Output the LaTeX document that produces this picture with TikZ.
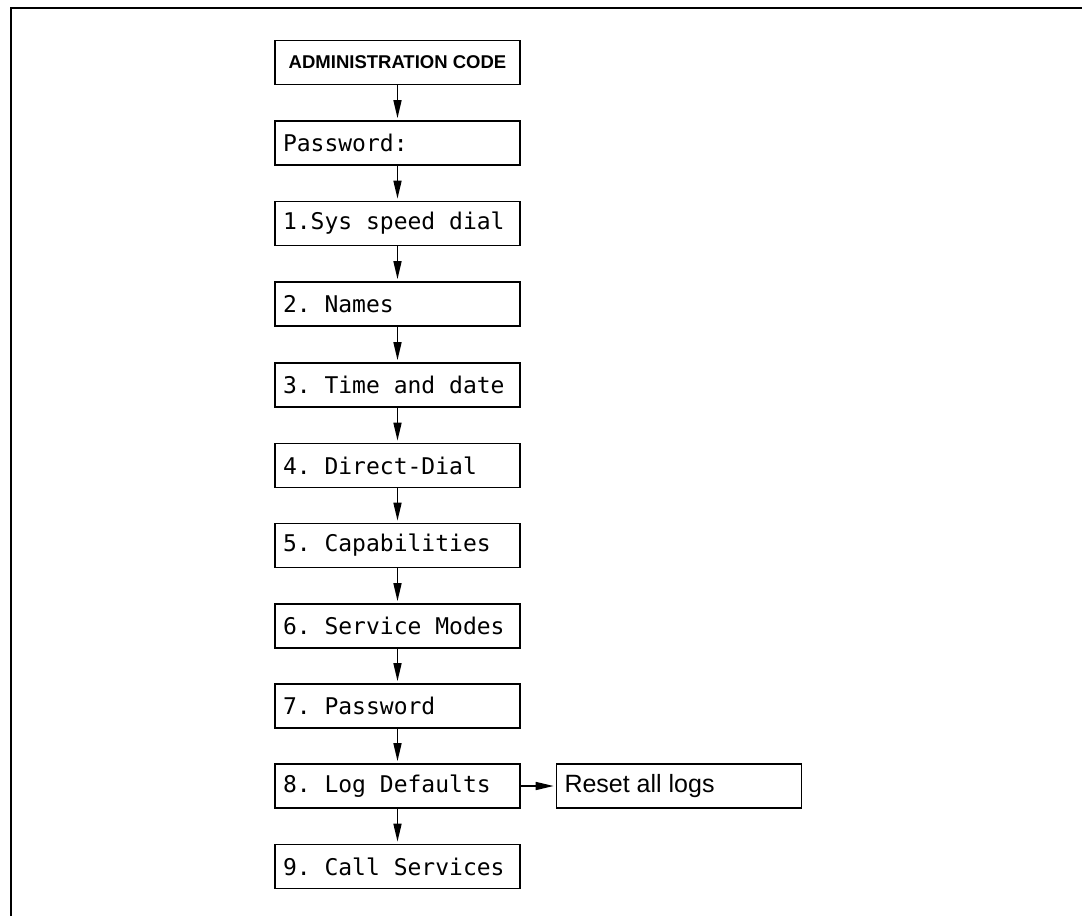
\documentclass[tikz,border=0pt]{standalone}
\usepackage{fontspec}
\setmainfont{Liberation Sans}
\newfontfamily\lcdfont{DejaVu Sans Mono}
\newlength\lcdw
\newcommand\lcdsize{\lcdfont\fontsize{23}{23}\selectfont}
\newcommand\lcdspaces{\settowidth\lcdw{0}\spaceskip=\lcdw\relax\xspaceskip=\lcdw\relax}
\newcommand\natspaces{\spaceskip=\fontdimen2\font\relax\xspaceskip=\fontdimen2\font\relax}
\usetikzlibrary{arrows.meta}
\begin{document}
\begin{tikzpicture}[x=1pt,y=-1pt,
  basebox/.style={draw, line width=1.7pt, minimum height=44pt, text width=229pt,
    inner xsep=8pt, inner ysep=0pt, align=left, anchor=center},
  menubox/.style={basebox, font=\lcdsize, execute at begin node=\lcdspaces},
  headbox/.style={basebox, align=center, font=\bfseries\fontsize{18.5}{18.5}\selectfont,
    execute at begin node=\natspaces},
  sidebox/.style={basebox, font=\fontsize{25}{25}\selectfont, execute at begin node=\natspaces},
  flow/.style={-{Triangle[length=18pt,width=8pt]}, line width=1.6pt, shorten >=2pt},
  frameline/.style={line width=2.4pt}]
\useasboundingbox (0,0) rectangle (1082,916);
\draw[frameline] (11,916) -- (11,8) -- (1082,8);

\node[headbox] (admin) at (397.5,62.5) {ADMINISTRATION CODE};
\node[menubox] (pw)   at (397.5,143)   {Password:};
\node[menubox] (sys)  at (397.5,223.5) {1.Sys speed dial};
\node[menubox] (nam)  at (397.5,304)   {2. Names};
\node[menubox] (tim)  at (397.5,385)   {3. Time and date};
\node[menubox] (dir)  at (397.5,465.5) {4. Direct-Dial};
\node[menubox] (cap)  at (397.5,545.5) {5. Capabilities};
\node[menubox] (ser)  at (397.5,626)   {6. Service Modes};
\node[menubox] (pwd)  at (397.5,706)   {7. Password};
\node[menubox] (log)  at (397.5,786)   {8. Log Defaults};
\node[menubox] (cal)  at (397.5,866.5) {9. Call Services};
\node[sidebox] (reset) at (679,786) {Reset all logs};

\draw[flow] (admin) -- (pw);
\draw[flow] (pw) -- (sys);
\draw[flow] (sys) -- (nam);
\draw[flow] (nam) -- (tim);
\draw[flow] (tim) -- (dir);
\draw[flow] (dir) -- (cap);
\draw[flow] (cap) -- (ser);
\draw[flow] (ser) -- (pwd);
\draw[flow] (pwd) -- (log);
\draw[flow] (log) -- (cal);
\draw[flow] (log) -- (reset);
\end{tikzpicture}
\end{document}
